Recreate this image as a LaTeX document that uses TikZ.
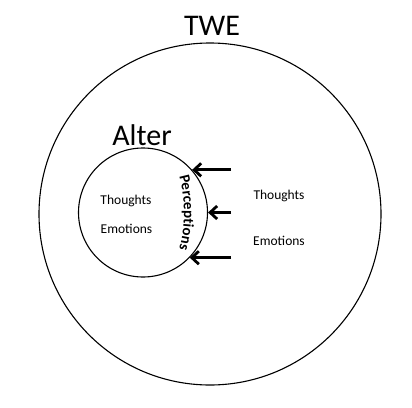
\documentclass[tikz,border=0pt]{standalone}
\usepackage{fontspec}
\setmainfont{Carlito}
\usetikzlibrary{arrows.meta,decorations.text}
\newcommand\pfont{\fontsize{15}{18}\selectfont\bfseries}
\begin{document}
\begin{tikzpicture}[x=1pt,y=-1pt,
  ring/.style={circle,draw,inner sep=0pt,line width=1.1pt},
  big/.style={font=\fontsize{30}{36}\selectfont,anchor=base,inner sep=0pt},
  lab/.style={font=\fontsize{13.5}{16}\selectfont,anchor=base,inner sep=0pt},
  arr/.style={line width=2.8pt,-{Straight Barb[length=7pt,width=13pt]}}]
\useasboundingbox (0,0) rectangle (412,407);
\node[ring,minimum size=342pt] (twe) at (210,214) {};
\node[ring,minimum size=129pt] (alter) at (143,212.5) {};
\node[big] (twelab) at (212,35) {TWE};
\node[big] (alterlab) at (142,145) {Alter};
\node[lab] (t1) at (126,204) {Thoughts};
\node[lab] (e1) at (126.5,233) {Emotions};
\node[lab] (t2) at (279,199.5) {Thoughts};
\node[lab] (e2) at (279,245) {Emotions};
\coordinate (r) at (231,0);
\draw[arr] (alter.41 -| r) -- (alter.41);
\draw[arr] (alter.0 -| r) -- (alter.0);
\draw[arr] (alter.-44 -| r) -- (alter.-44);
\path[decorate,decoration={text along path,text align=center,
  text format delimiters={|}{|},text={|\pfont|Perceptions}}]
  (178,172) .. controls (186,197) and (186,228) .. (178,253);
\end{tikzpicture}
\end{document}
